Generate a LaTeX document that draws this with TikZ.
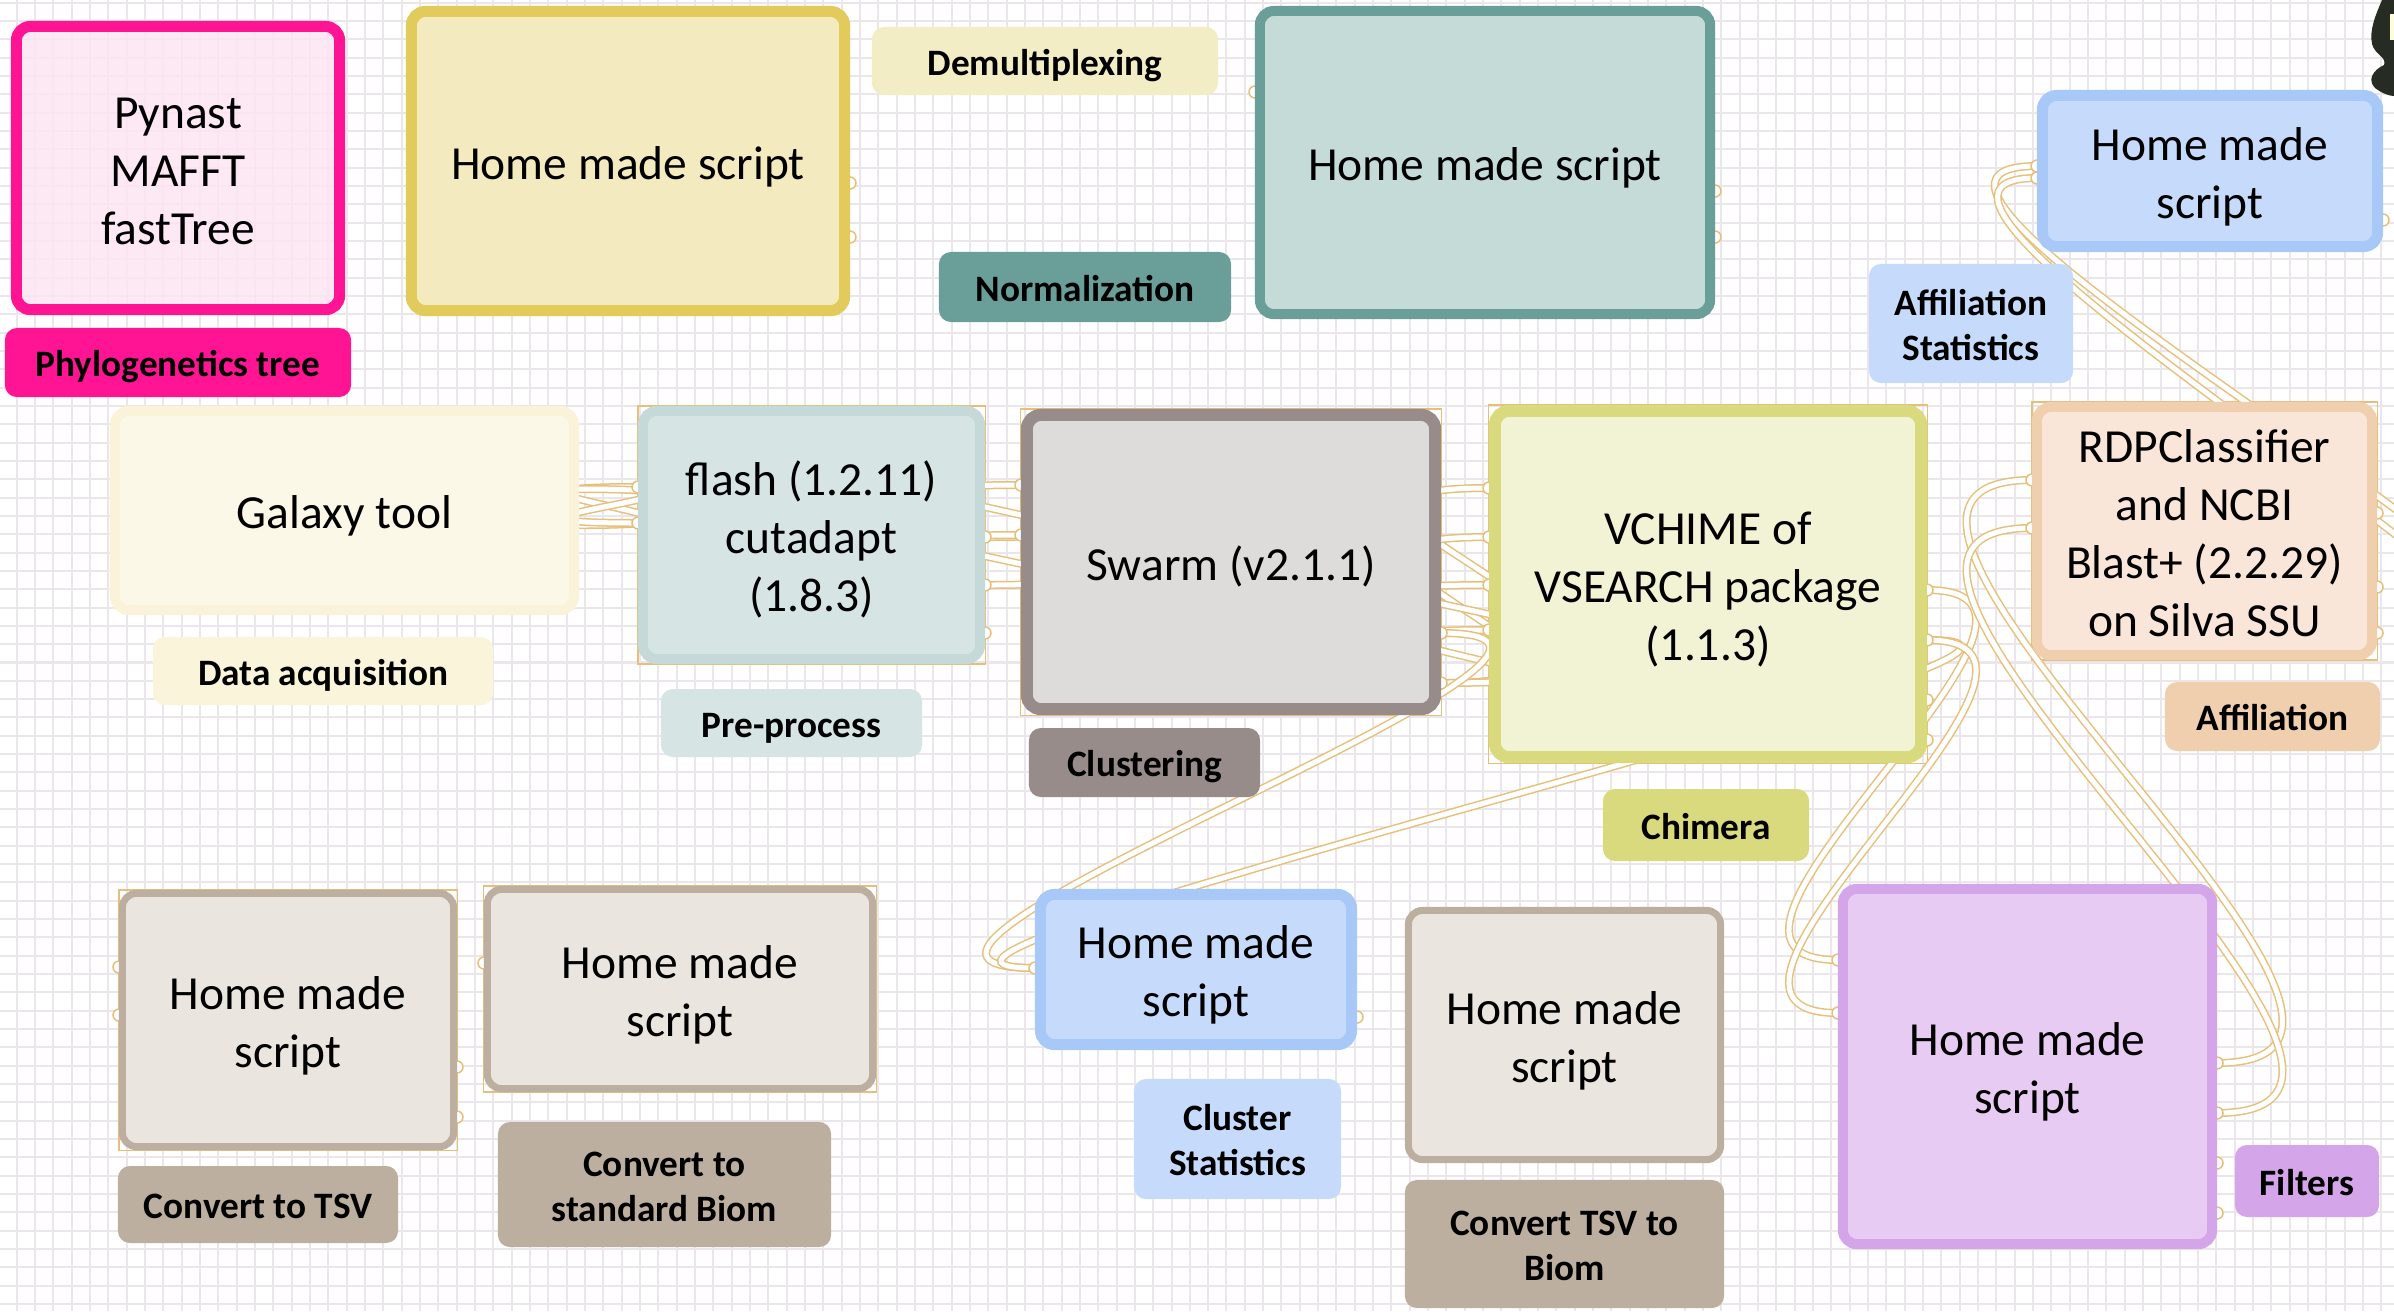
\documentclass[tikz,border=0pt]{standalone}
\usepackage{fontspec}
\setmainfont{Carlito}
\usetikzlibrary{calc}
\definecolor{gridc}{HTML}{EBE6EB}
\definecolor{wirec}{HTML}{E6C07B}
\definecolor{pinkB}{HTML}{FF1493}
\definecolor{pinkF}{HTML}{FDE4F0}
\definecolor{yelB}{HTML}{E3CB5B}
\definecolor{yelF}{HTML}{F3EABF}
\definecolor{demuxF}{HTML}{F3EDC5}
\definecolor{tealB}{HTML}{6A9E99}
\definecolor{tealF}{HTML}{C5DBD8}
\definecolor{bluB}{HTML}{A8C8F8}
\definecolor{bluF}{HTML}{C6DBFC}
\definecolor{galB}{HTML}{FAF3D9}
\definecolor{galF}{HTML}{FBF8E7}
\definecolor{dataF}{HTML}{F9F4DA}
\definecolor{flaB}{HTML}{C5DAD8}
\definecolor{flaF}{HTML}{D6E5E4}
\definecolor{swaB}{HTML}{978C8A}
\definecolor{swaF}{HTML}{DEDCDB}
\definecolor{vchB}{HTML}{D9DA7D}
\definecolor{vchF}{HTML}{F2F3D5}
\definecolor{rdpB}{HTML}{F0CFAE}
\definecolor{rdpF}{HTML}{F9E6D8}
\definecolor{brnB}{HTML}{BCAF9F}
\definecolor{brnF}{HTML}{EAE5DF}
\definecolor{purB}{HTML}{D4A5E8}
\definecolor{purF}{HTML}{E8CBF3}
\definecolor{blobc}{HTML}{262C24}
\newcommand\bxfont{\fontsize{13.5}{16.5}\selectfont}
\newcommand\tgfont{\fontsize{10.6}{12.8}\selectfont\bfseries}
\newlength\txshift
\setlength\txshift{0.05cm}
\newlength\bxshift
\setlength\bxshift{0.065cm}
\newcommand\tx[1]{\raisebox{-\txshift}[\height][\depth]{\begin{tabular}{@{}c@{}}#1\end{tabular}}}
\newcommand\bx[1]{\raisebox{-\bxshift}[\height][\depth]{\begin{tabular}{@{}c@{}}#1\end{tabular}}}
\pgfdeclarelayer{gridl}
\pgfdeclarelayer{wirel}
\pgfsetlayers{gridl,wirel,main}
\tikzset{
  box/.style={draw, rounded corners=0.14cm, inner sep=0pt, font=\bxfont},
  tag/.style={rounded corners=0.12cm, inner sep=0pt, font=\tgfont},
  wire/.style={draw=wirec, line width=0.015cm, double=white, double distance=0.05cm},
  port/.style={draw=wirec, fill=white, line width=0.015cm},
  backrect/.style={draw=wirec, line width=0.012cm},
  gridline/.style={draw=gridc, line width=0.02cm},
}
\newcommand\wire[3][270]{\draw[wire] (#2) .. controls +(#1,0) and +(-#1,0) .. (#3);}
\begin{document}
\begin{tikzpicture}[x=0.01cm,y=-0.01cm]
\useasboundingbox (0,0) rectangle (2394,1311);
\begin{pgfonlayer}{gridl}
  \fill[white] (0,0) rectangle (2394,1311);
  \foreach \i in {0,...,130} {\draw[gridline] ({16.7+18.33*\i},0) -- ++(0,1311);}
  \foreach \j in {0,...,71} {\draw[gridline] (0,{2.6+18.33*\j}) -- ++(2394,0);}
\end{pgfonlayer}

% ---------- boxes ----------
\node[box, draw=pinkB, fill=pinkF, fill opacity=0.8, text opacity=1, draw opacity=1, line width=0.11cm, minimum width=3.23cm, minimum height=2.83cm] (pink) at (178,168) {\bx{Pynast\\MAFFT\\fastTree}};
\node[box, draw=yelB, fill=yelF, line width=0.11cm, minimum width=4.33cm, minimum height=2.99cm] (yel) at (628,161) {\bx{Home made script}};
\node[box, draw=tealB, fill=tealF, line width=0.10cm, minimum width=4.50cm, minimum height=3.03cm] (teal) at (1485,162.5) {\bx{Home made script}};
\node[box, draw=bluB, fill=bluF, line width=0.11cm, minimum width=3.35cm, minimum height=1.51cm] (affs) at (2210,171) {\bx{Home made\\script}};
\node[box, draw=galB, fill=galF, line width=0.10cm, minimum width=4.59cm, minimum height=1.99cm] (gal) at (344.5,510.5) {\bx{Galaxy tool}};
\node[box, draw=flaB, fill=flaF, line width=0.10cm, minimum width=3.37cm, minimum height=2.48cm] (fla) at (811.5,535) {\bx{flash (1.2.11)\\cutadapt\\(1.8.3)}};
\node[box, draw=swaB, fill=swaF, line width=0.12cm, minimum width=4.08cm, minimum height=2.94cm] (swa) at (1231,562) {\bx{Swarm (v2.1.1)}};
\node[box, draw=vchB, fill=vchF, line width=0.12cm, minimum width=4.26cm, minimum height=3.46cm] (vch) at (1708,584) {\bx{VCHIME of\\VSEARCH package\\(1.1.3)}};
\node[box, draw=rdpB, fill=rdpF, line width=0.10cm, minimum width=3.35cm, minimum height=2.48cm] (rdp) at (2204.5,531) {\bx{RDPClassifier\\and NCBI\\Blast+ (2.2.29)\\on Silva SSU}};
\node[box, draw=brnB, fill=brnF, line width=0.07cm, minimum width=3.31cm, minimum height=2.53cm] (tsv) at (288,1020) {\bx{Home made\\script}};
\node[box, draw=brnB, fill=brnF, line width=0.07cm, minimum width=3.85cm, minimum height=1.99cm] (sbi) at (680,989) {\bx{Home made\\script}};
\node[box, draw=bluB, fill=bluF, line width=0.11cm, minimum width=3.11cm, minimum height=1.50cm] (cls) at (1196,969.5) {\bx{Home made\\script}};
\node[box, draw=brnB, fill=brnF, line width=0.07cm, minimum width=3.12cm, minimum height=2.49cm] (tbi) at (1564.5,1035) {\bx{Home made\\script}};
\node[box, draw=purB, fill=purF, line width=0.10cm, minimum width=3.69cm, minimum height=3.55cm] (pur) at (2027.5,1066.5) {\bx{Home made\\script}};

% ---------- labels ----------
\node[tag, fill=pinkB, minimum width=3.46cm, minimum height=0.69cm] (tphy) at (178,362.5) {\tx{Phylogenetics tree}};
\node[tag, fill=demuxF, minimum width=3.46cm, minimum height=0.68cm] (tdem) at (1045,61) {\tx{Demultiplexing}};
\node[tag, fill=tealB, minimum width=2.92cm, minimum height=0.70cm] (tnor) at (1085,287) {\tx{Normalization}};
\node[tag, fill=bluF, minimum width=2.04cm, minimum height=1.19cm] (taff) at (1971,323.5) {\tx{Affiliation\\Statistics}};
\node[tag, fill=dataF, minimum width=3.40cm, minimum height=0.68cm] (tdat) at (323,671) {\tx{Data acquisition}};
\node[tag, fill=flaF, minimum width=2.61cm, minimum height=0.68cm] (tpre) at (791.5,723) {\tx{Pre-process}};
\node[tag, fill=swaB, minimum width=2.31cm, minimum height=0.69cm] (tclu) at (1144.5,762.5) {\tx{Clustering}};
\node[tag, fill=vchB, minimum width=2.06cm, minimum height=0.72cm] (tchi) at (1706,825) {\tx{Chimera}};
\node[tag, fill=rdpB, minimum width=2.15cm, minimum height=0.69cm] (tafl) at (2272.5,716.5) {\tx{Affiliation}};
\node[tag, fill=brnB, minimum width=2.80cm, minimum height=0.77cm] (ttsv) at (258,1204.5) {\tx{Convert to TSV}};
\node[tag, fill=brnB, minimum width=3.33cm, minimum height=1.25cm] (tsbi) at (664.5,1184.5) {\tx{Convert to\\standard Biom}};
\node[tag, fill=bluF, minimum width=2.07cm, minimum height=1.20cm] (tcls) at (1237.5,1139) {\tx{Cluster\\Statistics}};
\node[tag, fill=brnB, minimum width=3.19cm, minimum height=1.28cm] (ttbi) at (1564.5,1244) {\tx{Convert TSV to\\Biom}};
\node[tag, fill=purB, minimum width=1.44cm, minimum height=0.72cm] (tfil) at (2307,1181) {\tx{Filters}};

% ---------- ports ----------
\coordinate (go1) at (579,525);  \coordinate (go2) at (579,489);
\coordinate (fi1) at (638,487);  \coordinate (fi2) at (638,523);
\coordinate (fo1) at (985,537);  \coordinate (fo2) at (985,585);  \coordinate (fo3) at (985,633);
\coordinate (si1) at (1021,485); \coordinate (si2) at (1021,535);
\coordinate (so1) at (1441,633); \coordinate (so2) at (1441,683);
\coordinate (vi1) at (1489,488); \coordinate (vi2) at (1489,537); \coordinate (vi3) at (1489,585); \coordinate (vi4) at (1489,630);
\coordinate (vo1) at (1927,590); \coordinate (vo2) at (1927,640); \coordinate (vo3) at (1927,700); \coordinate (vo4) at (1927,740);
\coordinate (ci) at (1035,968);  \coordinate (co) at (1357,1017);
\coordinate (pi1) at (1838,960); \coordinate (pi2) at (1838,1013);
\coordinate (po1) at (2217,1063); \coordinate (po2) at (2217,1113); \coordinate (po3) at (2217,1163); \coordinate (po4) at (2217,1213);
\coordinate (ri1) at (2032,480); \coordinate (ri2) at (2032,528);
\coordinate (ro1) at (2377,513); \coordinate (ro2) at (2377,587); \coordinate (ro3) at (2377,633);
\coordinate (ti1) at (2037,166); \coordinate (ti2) at (2037,178); \coordinate (to1) at (2383,220);
\coordinate (xo1) at (2486,660); \coordinate (xo2) at (2500,700); % outputs of a step beyond the right edge
\coordinate (tl1) at (119,967);  \coordinate (tl2) at (119,1015); \coordinate (tr1) at (457,1067); \coordinate (tr2) at (457,1117);
\coordinate (bl1) at (484,963);
\coordinate (yo1) at (850,183);  \coordinate (yo2) at (850,237);
\coordinate (eo1) at (1715,191); \coordinate (eo2) at (1715,237); \coordinate (ei1) at (1255,92);

\begin{pgfonlayer}{wirel}
  \foreach \n in {fla,swa,vch,rdp,tsv,sbi}
    {\draw[backrect] (\n.north west) rectangle (\n.south east);}
  \wire[230]{go1}{fi1}
  \wire[230]{go2}{fi2}
  \wire{fo1}{si1}
  \wire{fo2}{si2}
  \wire{so1}{vi1}
  \wire{so2}{vi2}
  \wire{so1}{vi3}
  \wire{so2}{vi4}
  \wire{so1}{ci}
  \wire{vo2}{ci}
  \wire[200]{vo1}{pi1}
  \wire[200]{vo2}{pi2}
  \wire[285]{po1}{ri1}
  \wire[285]{po2}{ri2}
  \wire[250]{xo1}{ti1}
  \wire[240]{xo2}{ti2}
  \foreach \p in {fi1,fi2,fo1,fo2,fo3,si1,si2,so1,so2,vi1,vi2,vi3,vi4,vo1,vo2,vo3,vo4,ci,co,pi1,pi2,po1,po2,po3,po4,ri1,ri2,ro1,ro2,ro3,ti1,ti2,to1,tl1,tl2,tr1,tr2,bl1,yo1,yo2,eo1,eo2,ei1}
    {\draw[port] (\p) circle (6);}
\end{pgfonlayer}

% ---------- photo fragment at the right edge ----------
\fill[blobc] (2382,0) .. controls (2376,14) and (2369,30) .. (2372,44)
  .. controls (2375,55) and (2387,57) .. (2384,65)
  .. controls (2373,70) and (2367,80) .. (2375,88)
  .. controls (2383,94) and (2390,96) .. (2394,96) -- (2394,0) -- cycle;
\fill[white!85!yellow] (2390,14) rectangle (2394,40);
\end{tikzpicture}
\end{document}
